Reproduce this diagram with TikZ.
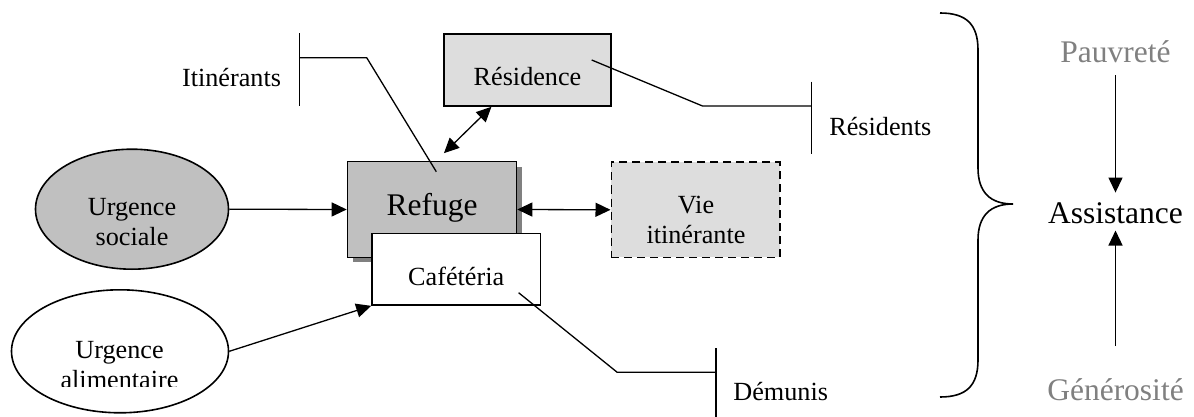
\documentclass[tikz,border=0pt]{standalone}
\usepackage{fontspec}
\setmainfont{Liberation Serif}
\usetikzlibrary{shapes.geometric,arrows.meta,shadows,calc,positioning}
\definecolor{grisfonce}{RGB}{192,192,192}
\definecolor{grisclair}{RGB}{221,221,221}
\definecolor{grisombre}{RGB}{128,128,128}
\definecolor{gristexte}{RGB}{128,128,128}
\newcommand{\petit}{\fontsize{26.2}{30}\selectfont}
\newcommand{\grand}{\fontsize{31.5}{36}\selectfont}

\begin{document}
\begin{tikzpicture}[x=1pt,y=-1pt,line width=1.3pt,
  boite/.style={draw,line width=1.6pt,inner sep=0},
  bulle/.style={ellipse,draw,line width=1.6pt,inner sep=0},
  fleche/.style={-{Triangle[length=15pt,width=14pt]}},
  bifleche/.style={{Triangle[length=15pt,width=14pt]}-{Triangle[length=15pt,width=14pt]}},
  txt/.style={inner sep=0,font=\petit,align=center},
  gros/.style={inner sep=0,font=\grand}]
\useasboundingbox (0,0) rectangle (1194,417);

% les deux urgences
\node[bulle,fill=grisfonce,minimum width=193pt,minimum height=120pt] (soc) at (132,209.2) {};
\node[bulle,fill=white,minimum width=217pt,minimum height=123pt] (ali) at (120,351.3) {};
\begin{scope}
  \clip (30,150) rectangle (240,246.5);
  \node[txt] (tsoc) at (132,222) {Urgence\\sociale};
\end{scope}
\begin{scope}
  \clip (10,300) rectangle (240,386.7);
  \node[txt] (tali) at (119.5,365) {Urgence\\alimentaire};
\end{scope}

% les boites
\node[boite,fill=grisclair,minimum width=167pt,minimum height=72pt] (res) at (527.5,70) {};
\node[boite,fill=grisfonce,minimum width=169pt,minimum height=95.6pt,
      drop shadow={shadow xshift=5pt,shadow yshift=-5pt,fill=grisombre,opacity=1}] (ref) at (432,209.5) {};
\node[boite,fill=white,minimum width=168.4pt,minimum height=71.7pt] (caf) at (456.2,269.2) {};
\node[boite,dash pattern=on 8pt off 5pt,fill=grisclair,minimum width=168.4pt,minimum height=95pt] (vie) at (695.5,209.8) {};

\node[txt] (tres) at ($(res.center)+(0,7)$) {Résidence};
\node[gros] (tref) at (432,208.3) {Refuge};
\node[txt] (tcaf) at ($(caf.center)+(0,7.5)$) {Cafétéria};
\node[txt] (tvie) at ($(vie.center)+(0.5,10)$) {Vie\\itinérante};

% fleches
\draw[fleche] (soc.east) -- (ref.west);
\draw[fleche] (ali.east) -- (caf.south west);
\draw[bifleche] (ref.east) -- (vie.west);
\coordinate (hautref) at ($(ref.north west)!0.57!(ref.north east)+(0,-7.7)$);
\draw[bifleche] ($(res.south west)!0.286!(res.south east)$) -- (hautref);

% les publics
\coordinate (itin) at (299.7,57.7);
\coordinate (pI) at (436.3,171.7);
\draw (pI) -- ($(itin)+(67,0)$) -- (itin);
\draw ($(itin)+(0,-24.4)$) -- ($(itin)+(0,48.3)$);
\node[txt] (titin) at (231.5,77.3) {Itinérants};

\coordinate (resid) at (811.8,106);
\coordinate (pR) at (591.7,60);
\draw (pR) -- ($(resid)+(-109.3,0)$) -- (resid);
\draw ($(resid)+(0,-24.3)$) -- ($(resid)+(0,48)$);
\node[txt] (tresid) at (880.3,126.7) {Résidents};

\coordinate (demun) at (716,372.3);
\coordinate (pD) at (518.6,292.7);
\draw (pD) -- ($(demun)+(-98.8,0)$) -- (demun);
\draw ($(demun)+(0,-24)$) -- ($(demun)+(0,46)$);
\node[txt] (tdemun) at (780.7,391.7) {Démunis};

% accolade
\draw[line width=1.6pt] (940,13) .. controls (966,13) and (978,24) .. (978,50) -- (978,168)
   .. controls (978,192) and (990,204) .. (1013,204)
   .. controls (990,204) and (978,216) .. (978,240) -- (978,360)
   .. controls (978,386) and (966,397) .. (940,397);

% assistance
\node[gros,text=gristexte] (pauv) at (1115.5,51.7) {Pauvreté};
\node[gros] (assist) at (1115.5,213.3) {Assistance};
\node[gros,text=gristexte] (gene) at (1115.5,390) {Générosité};
\draw[fleche,shorten <=12pt,shorten >=9.5pt] (pauv) -- (assist);
\draw[fleche,shorten <=32pt,shorten >=6pt] (gene) -- (assist);
\end{tikzpicture}
\end{document}
